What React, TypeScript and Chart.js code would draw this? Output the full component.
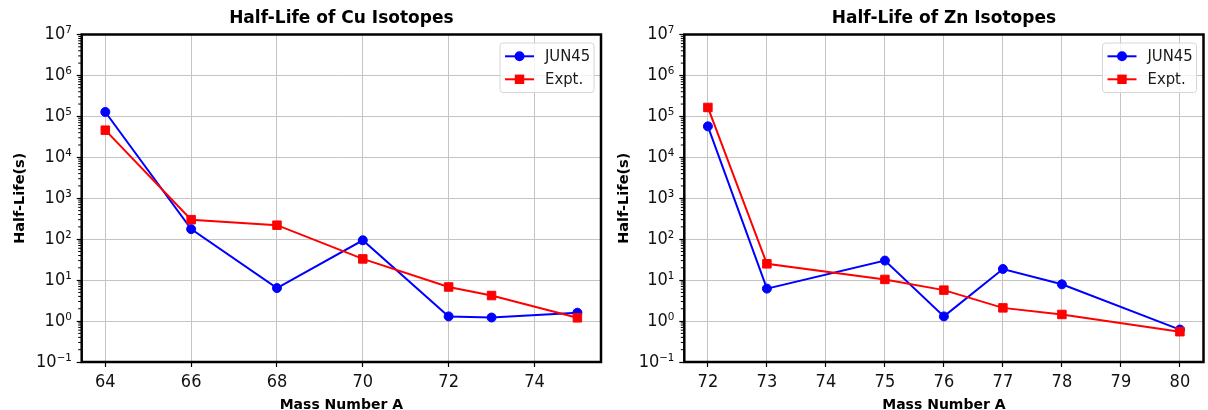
import React, { useEffect, useRef } from 'react';
import { Chart, registerables } from 'chart.js';

Chart.register(...registerables);

// ---- data ----
const cuMass = [64, 66, 68, 70, 72, 73, 75];
const cuJun45 = [1.28e5, 176, 6.4, 94, 1.3, 1.22, 1.6];
const cuExpt = [4.6e4, 300, 220, 33, 6.8, 4.2, 1.2];

const znMass = [72, 73, 75, 76, 77, 78, 80];
const znJun45 = [5.7e4, 6.2, 30, 1.3, 18.7, 7.9, 0.62];
const znExpt = [1.65e5, 25, 10.4, 5.7, 2.1, 1.45, 0.55];

const cuXTicks = [64, 66, 68, 70, 72, 74];
const znXTicks = [72, 73, 74, 75, 76, 77, 78, 79, 80];
const yTicks = [0.1, 1, 10, 100, 1e3, 1e4, 1e5, 1e6, 1e7];
const seriesNames = ['JUN45', 'Expt.'];
const chartTitles = ['Half-Life of Cu Isotopes', 'Half-Life of Zn Isotopes'];
const xTitle = 'Mass Number A';
const yTitle = 'Half-Life(s)';

const TICK_FONT = '"DejaVu Sans Condensed", "DejaVu Sans", sans-serif';
const BOLD_FONT = '"DejaVu Sans", sans-serif';

const SUP: Record<string, string> = {
  '-': '\u207B', '0': '\u2070', '1': '\u00B9', '2': '\u00B2', '3': '\u00B3',
  '4': '\u2074', '5': '\u2075', '6': '\u2076', '7': '\u2077', '8': '\u2078', '9': '\u2079',
};
function sup(v: number) {
  const e = Math.round(Math.log10(v));
  return '10' + String(e).split('').map((c) => SUP[c]).join('');
}

type PanelProps = {
  title: string;
  xs: number[];
  jun: number[];
  expt: number[];
  xMin: number;
  xMax: number;
  xTicks: number[];
  left: number;
  axisLeft: number;
  padRight: number;
  legendInset: number;
};

const W = 604;
const H = 420;

function Panel(p: PanelProps) {
  const ref = useRef<HTMLCanvasElement>(null);
  useEffect(() => {
    if (!ref.current) return;
    const decor = {
      id: 'decor',
      afterDatasetsDraw(chart: any) {
        const { ctx, chartArea: a, scales } = chart;
        const y = scales.y;
        ctx.save();
        ctx.strokeStyle = '#000';
        ctx.lineWidth = 1;
        for (let e = -1; e < 7; e++) {
          for (let k = 2; k < 10; k++) {
            const py = y.getPixelForValue(k * Math.pow(10, e));
            ctx.beginPath();
            ctx.moveTo(a.left - 3.5, py);
            ctx.lineTo(a.left, py);
            ctx.stroke();
          }
        }
        ctx.lineWidth = 2.5;
        ctx.strokeRect(a.left, a.top, a.right - a.left, a.bottom - a.top);
        ctx.restore();
      },
      afterDraw(chart: any) {
        const { ctx, chartArea: a } = chart;
        const bw = 94;
        const bh = 49.5;
        const bx = a.right - p.legendInset - bw;
        const by = a.top + 8.5;
        ctx.save();
        ctx.beginPath();
        const r = 3;
        ctx.moveTo(bx + r, by);
        ctx.lineTo(bx + bw - r, by);
        ctx.quadraticCurveTo(bx + bw, by, bx + bw, by + r);
        ctx.lineTo(bx + bw, by + bh - r);
        ctx.quadraticCurveTo(bx + bw, by + bh, bx + bw - r, by + bh);
        ctx.lineTo(bx + r, by + bh);
        ctx.quadraticCurveTo(bx, by + bh, bx, by + bh - r);
        ctx.lineTo(bx, by + r);
        ctx.quadraticCurveTo(bx, by, bx + r, by);
        ctx.closePath();
        ctx.fillStyle = 'rgba(255,255,255,0.8)';
        ctx.fill();
        ctx.strokeStyle = '#d6d6d6';
        ctx.lineWidth = 1;
        ctx.stroke();
        chart.data.datasets.forEach((ds: any, i: number) => {
          const cy = by + 13.3 + i * 23;
          ctx.strokeStyle = ds.borderColor;
          ctx.lineWidth = 2;
          ctx.beginPath();
          ctx.moveTo(bx + 5, cy);
          ctx.lineTo(bx + 34, cy);
          ctx.stroke();
          ctx.fillStyle = ds.borderColor;
          const mx = bx + 19.5;
          if (ds.pointStyle === 'rect') {
            ctx.fillRect(mx - 4.7, cy - 4.7, 9.4, 9.4);
          } else {
            ctx.beginPath();
            ctx.arc(mx, cy, 5, 0, Math.PI * 2);
            ctx.fill();
          }
          ctx.fillStyle = '#1a1a1a';
          ctx.font = `16.5px ${TICK_FONT}`;
          ctx.textBaseline = 'middle';
          ctx.textAlign = 'left';
          ctx.fillText(ds.label, bx + 45, cy);
        });
        ctx.restore();
      },
    };

    const gridOpts = { color: '#c4c4c4', lineWidth: 1, tickColor: '#000', tickLength: 5, tickWidth: 1.2 };

    const chart = new Chart(ref.current, {
      type: 'line',
      data: {
        datasets: [
          {
            label: seriesNames[0],
            data: p.xs.map((x, i) => ({ x, y: p.jun[i] })),
            borderColor: '#0000ff',
            backgroundColor: '#0000ff',
            borderWidth: 2,
            pointStyle: 'circle',
            pointRadius: 4.5,
            pointBorderWidth: 1,
            tension: 0,
            order: 1,
          },
          {
            label: seriesNames[1],
            data: p.xs.map((x, i) => ({ x, y: p.expt[i] })),
            borderColor: '#ff0000',
            backgroundColor: '#ff0000',
            borderWidth: 2,
            pointStyle: 'rect',
            pointRadius: 6,
            pointBorderWidth: 1,
            tension: 0,
            order: 0,
          },
        ],
      },
      options: {
        responsive: false,
        animation: false,
        events: [],
        layout: { autoPadding: false, padding: { left: 0, right: p.padRight, top: 0, bottom: 0 } },
        plugins: {
          legend: { display: false },
          tooltip: { enabled: false },
          title: {
            display: true,
            text: p.title,
            fullSize: false,
            color: '#000',
            font: { family: BOLD_FONT, size: 17, weight: 'bold' },
            padding: { top: 8.5, bottom: 5.6 },
          },
        },
        scales: {
          x: {
            type: 'linear',
            min: p.xMin,
            max: p.xMax,
            afterBuildTicks: (s: any) => {
              s.ticks = p.xTicks.map((v) => ({ value: v }));
            },
            afterFit: (s: any) => {
              s.height = H - 362;
            },
            ticks: {
              font: { family: TICK_FONT, size: 18 },
              color: '#111',
              padding: 5,
              autoSkip: false,
              maxRotation: 0,
              callback: (v: any) => String(v),
            },
            grid: gridOpts,
            border: { display: false },
            title: {
              display: true,
              text: xTitle,
              color: '#000',
              font: { family: BOLD_FONT, size: 14, weight: 'bold' },
              padding: { top: 0, bottom: 6.5 },
            },
          },
          y: {
            type: 'logarithmic',
            min: 0.1,
            max: 1e7,
            afterBuildTicks: (s: any) => {
              s.ticks = yTicks.map((v) => ({ value: v, major: true }));
            },
            afterFit: (s: any) => {
              s.width = p.axisLeft;
            },
            ticks: {
              font: { family: TICK_FONT, size: 18 },
              color: '#111',
              padding: 5,
              autoSkip: false,
              callback: (v: any) => sup(Number(v)),
            },
            grid: gridOpts,
            border: { display: false },
            title: {
              display: true,
              text: yTitle,
              color: '#000',
              font: { family: BOLD_FONT, size: 14.5, weight: 'bold' },
              padding: { top: 11.5, bottom: 0 },
            },
          },
        },
      },
      plugins: [decor],
    } as any);
    return () => chart.destroy();
  }, []);

  return (
    <canvas
      ref={ref}
      width={W}
      height={H}
      style={{ position: 'absolute', left: p.left, top: 0, width: W, height: H, display: 'block' }}
    />
  );
}

export default function App() {
  return (
    <div style={{ position: 'fixed', left: 0, top: 0, width: 1208, height: 410, overflow: 'hidden', background: '#fff' }}>
      <Panel
        title={chartTitles[0]}
        xs={cuMass}
        jun={cuJun45}
        expt={cuExpt}
        xMin={63.45}
        xMax={75.55}
        xTicks={cuXTicks}
        left={0}
        axisLeft={81.7}
        padRight={3}
        legendInset={7}
      />
      <Panel
        title={chartTitles[1]}
        xs={znMass}
        jun={znJun45}
        expt={znExpt}
        xMin={71.6}
        xMax={80.4}
        xTicks={znXTicks}
        left={604}
        axisLeft={80.3}
        padRight={4.5}
        legendInset={7}
      />
    </div>
  );
}
